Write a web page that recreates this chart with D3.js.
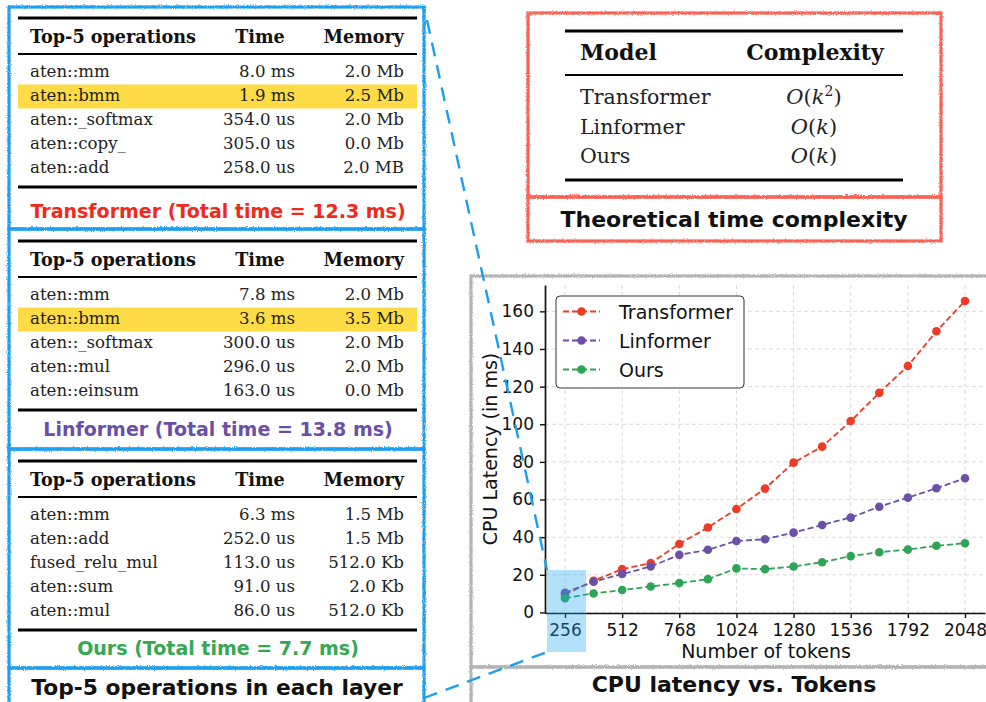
<!DOCTYPE html>
<html>
<head>
<meta charset="utf-8">
<script src="https://cdn.jsdelivr.net/npm/d3@7"></script>
<style>
  body { margin: 0; background: #fff; }
  svg { display: block; }
</style>
</head>
<body>
<svg id="fig" width="986" height="702"></svg>
<script>
// ---- chart data ----
var tokens = [256, 384, 512, 640, 768, 896, 1024, 1152, 1280, 1408, 1536, 1664, 1792, 1920, 2048];
var transformerMs = [9.5, 16.8, 23.0, 26.2, 36.4, 45.1, 55.0, 65.8, 79.6, 88.1, 101.7, 116.7, 131.0, 149.4, 165.5];
var linformerMs = [10.5, 16.3, 20.4, 24.4, 30.6, 33.3, 38.0, 38.9, 42.4, 46.5, 50.4, 56.2, 61.0, 66.0, 71.3];
var oursMs = [7.6, 10.1, 11.9, 13.8, 15.6, 17.7, 23.4, 23.0, 24.4, 26.7, 29.9, 32.0, 33.4, 35.4, 36.8];
var xTicks = [256, 512, 768, 1024, 1280, 1536, 1792, 2048];
var yTicks = [0, 20, 40, 60, 80, 100, 120, 140, 160];
var seriesNames = ['Transformer', 'Linformer', 'Ours'];

// ---- profiler tables ----
var transformerOps = ['aten::mm', 'aten::bmm', 'aten::_softmax', 'aten::copy_', 'aten::add'];
var transformerTime = ['8.0 ms', '1.9 ms', '354.0 us', '305.0 us', '258.0 us'];
var transformerMem = ['2.0 Mb', '2.5 Mb', '2.0 Mb', '0.0 Mb', '2.0 MB'];
var linformerOps = ['aten::mm', 'aten::bmm', 'aten::_softmax', 'aten::mul', 'aten::einsum'];
var linformerTime = ['7.8 ms', '3.6 ms', '300.0 us', '296.0 us', '163.0 us'];
var linformerMem = ['2.0 Mb', '3.5 Mb', '2.0 Mb', '2.0 Mb', '0.0 Mb'];
var oursOps = ['aten::mm', 'aten::add', 'fused_relu_mul', 'aten::sum', 'aten::mul'];
var oursTime = ['6.3 ms', '252.0 us', '113.0 us', '91.0 us', '86.0 us'];
var oursMem = ['1.5 Mb', '1.5 Mb', '512.0 Kb', '2.0 Kb', '512.0 Kb'];
var captions = ['Transformer (Total time = 12.3 ms)', 'Linformer (Total time = 13.8 ms)', 'Ours (Total time = 7.7 ms)'];

// ---- complexity table ----
var complexityModels = ['Transformer', 'Linformer', 'Ours'];
var complexityExp = ['2', '', ''];

var colors = { Transformer: '#ee3b26', Linformer: '#6a50a7', Ours: '#2fa356' };
var capColors = ['#f0291c', '#6a4fa8', '#34a853'];
var BLUE = '#1c9ff0', RED = '#fb6253', GRAY = '#b3b3b3';
var serif = '"DejaVu Serif", serif';
var sansBold = '"DejaVu Sans", sans-serif';

var svg = d3.select('#fig');
var defs = svg.append('defs');
var f = defs.append('filter').attr('id', 'rough')
  .attr('filterUnits', 'userSpaceOnUse')
  .attr('x', 0).attr('y', 0).attr('width', 986).attr('height', 702);
f.append('feTurbulence').attr('type', 'fractalNoise').attr('baseFrequency', 0.9)
  .attr('numOctaves', 2).attr('seed', 4).attr('result', 'n');
f.append('feDisplacementMap').attr('in', 'SourceGraphic').attr('in2', 'n')
  .attr('scale', 2.8).attr('xChannelSelector', 'R').attr('yChannelSelector', 'G');

svg.append('rect').attr('width', 986).attr('height', 702).attr('fill', '#fff');

// ================= left: profiler tables =================
function drawTable(y0, ops, times, mems, hi, capY, cap, capColor) {
  var g = svg.append('g');
  var x0 = 18, x1 = 417;
  if (hi >= 0) {
    g.append('rect').attr('x', x0).attr('y', y0 + 59 + 24 * hi - 16.5)
      .attr('width', x1 - x0).attr('height', 24).attr('fill', '#ffdc45');
  }
  g.append('rect').attr('x', x0).attr('y', y0 - 1.5).attr('width', x1 - x0).attr('height', 3);
  g.append('rect').attr('x', x0).attr('y', y0 + 35).attr('width', x1 - x0).attr('height', 2);
  g.append('rect').attr('x', x0).attr('y', y0 + 167.5).attr('width', x1 - x0).attr('height', 3);

  var hd = g.append('g').attr('font-family', serif).attr('font-weight', 'bold')
    .attr('font-size', 17.6).attr('fill', '#111');
  hd.append('text').attr('x', 30).attr('y', y0 + 25).text('Top-5 operations');
  hd.append('text').attr('x', 260).attr('y', y0 + 25).attr('text-anchor', 'middle').text('Time');
  hd.append('text').attr('x', 404).attr('y', y0 + 25).attr('text-anchor', 'end').text('Memory');

  var body = g.append('g').attr('font-family', serif).attr('font-size', 16.6).attr('fill', '#222');
  ops.forEach(function (op, i) {
    var by = y0 + 59 + 24 * i;
    body.append('text').attr('x', 30).attr('y', by).text(op);
    body.append('text').attr('x', 295).attr('y', by).attr('text-anchor', 'end').text(times[i]);
    body.append('text').attr('x', 404).attr('y', by).attr('text-anchor', 'end').text(mems[i]);
  });

  g.append('text').attr('x', 218).attr('y', capY).attr('text-anchor', 'middle')
    .attr('font-family', sansBold).attr('font-weight', 700).attr('font-size', 19)
    .attr('fill', capColor).text(cap);
}

drawTable(18, transformerOps, transformerTime, transformerMem, 1, 218, captions[0], capColors[0]);
drawTable(241, linformerOps, linformerTime, linformerMem, 1, 436, captions[1], capColors[1]);
drawTable(461, oursOps, oursTime, oursMem, -1, 655, captions[2], capColors[2]);

svg.append('text').attr('x', 217).attr('y', 695).attr('text-anchor', 'middle')
  .attr('font-family', sansBold).attr('font-weight', 700).attr('font-size', 21.8)
  .attr('fill', '#111').text('Top-5 operations in each layer');

// ================= top right: complexity table =================
var ct = svg.append('g');
ct.append('rect').attr('x', 565).attr('y', 29.5).attr('width', 338).attr('height', 3);
ct.append('rect').attr('x', 565).attr('y', 74).attr('width', 338).attr('height', 2);
ct.append('rect').attr('x', 565).attr('y', 178.5).attr('width', 338).attr('height', 3);
var cth = ct.append('g').attr('font-family', serif).attr('font-weight', 'bold')
  .attr('font-size', 22).attr('fill', '#111');
cth.append('text').attr('x', 580).attr('y', 60).text('Model');
cth.append('text').attr('x', 815).attr('y', 60).attr('text-anchor', 'middle').text('Complexity');
var rowBase = [104, 134, 163];
complexityModels.forEach(function (m, i) {
  ct.append('text').attr('x', 580).attr('y', rowBase[i])
    .attr('font-family', serif).attr('font-size', 20.5).attr('fill', '#222').text(m);
  var t = ct.append('text').attr('x', 814).attr('y', rowBase[i]).attr('text-anchor', 'middle')
    .attr('font-family', serif).attr('font-size', 21).attr('fill', '#222');
  t.append('tspan').attr('font-style', 'italic').text('O');
  t.append('tspan').text('(');
  t.append('tspan').attr('font-style', 'italic').text('k');
  if (complexityExp[i]) {
    t.append('tspan').attr('font-size', 14).attr('dy', -8).text(complexityExp[i]);
    t.append('tspan').attr('dy', 8).text(')');
  } else {
    t.append('tspan').text(')');
  }
});
svg.append('text').attr('x', 734).attr('y', 227).attr('text-anchor', 'middle')
  .attr('font-family', sansBold).attr('font-weight', 700).attr('font-size', 22)
  .attr('fill', '#111').text('Theoretical time complexity');

// ================= bottom right: latency chart =================
var x = d3.scaleLinear().domain([166.4, 2137.6]).range([545, 985]);
var y = d3.scaleLinear().domain([-0.3, 174]).range([613, 285]);

var grid = svg.append('g').attr('stroke', '#d6d6d6').attr('stroke-width', 0.9)
  .attr('stroke-dasharray', '4,3');
grid.selectAll('.gx').data(xTicks).enter().append('line')
  .attr('x1', function (d) { return x(d); }).attr('x2', function (d) { return x(d); })
  .attr('y1', y.range()[1]).attr('y2', y.range()[0]);
grid.selectAll('.gy').data(yTicks).enter().append('line')
  .attr('x1', x.range()[0]).attr('x2', x.range()[1])
  .attr('y1', function (d) { return y(d); }).attr('y2', function (d) { return y(d); });

var seriesVals = [transformerMs, linformerMs, oursMs];
var line = d3.line().x(function (d) { return x(d[0]); }).y(function (d) { return y(d[1]); });
seriesNames.forEach(function (name, k) {
  var pts = tokens.map(function (t, i) { return [t, seriesVals[k][i]]; });
  var g = svg.append('g');
  g.append('path').datum(pts).attr('d', line).attr('fill', 'none')
    .attr('stroke', colors[name]).attr('stroke-width', 1.8).attr('stroke-dasharray', '6,3');
  g.selectAll('circle').data(pts).enter().append('circle')
    .attr('cx', function (d) { return x(d[0]); }).attr('cy', function (d) { return y(d[1]); })
    .attr('r', 4.3).attr('fill', colors[name]);
});

var xAxis = svg.append('g').attr('transform', 'translate(0,613)')
  .call(d3.axisBottom(x).tickValues(xTicks).tickFormat(d3.format('d'))
    .tickSize(5).tickSizeOuter(0).tickPadding(6));
var yAxis = svg.append('g').attr('transform', 'translate(545,0)')
  .call(d3.axisLeft(y).tickValues(yTicks).tickFormat(d3.format('d'))
    .tickSize(5).tickSizeOuter(0).tickPadding(6));
[xAxis, yAxis].forEach(function (a) {
  a.selectAll('text').attr('font-family', '"DejaVu Sans", sans-serif').attr('font-size', 17).attr('fill', '#111');
  a.selectAll('line').attr('stroke', '#111').attr('stroke-width', 1.4);
  a.select('.domain').attr('stroke', '#111').attr('stroke-width', 1.7);
});

svg.append('text').attr('x', 766).attr('y', 658).attr('text-anchor', 'middle')
  .attr('font-family', '"DejaVu Sans", sans-serif').attr('font-size', 19).attr('fill', '#111')
  .text('Number of tokens');
svg.append('text').attr('transform', 'translate(497,449) rotate(-90)').attr('text-anchor', 'middle')
  .attr('font-family', '"DejaVu Sans", sans-serif').attr('font-size', 19).attr('fill', '#111')
  .text('CPU Latency (in ms)');

// legend
var lg = svg.append('g');
lg.append('rect').attr('x', 556).attr('y', 296).attr('width', 188).attr('height', 92)
  .attr('rx', 4).attr('fill', '#fff').attr('fill-opacity', 0.85)
  .attr('stroke', '#333').attr('stroke-width', 1);
seriesNames.forEach(function (name, i) {
  var cy = 311.5 + 29 * i;
  lg.append('line').attr('x1', 563).attr('x2', 600).attr('y1', cy).attr('y2', cy)
    .attr('stroke', colors[name]).attr('stroke-width', 1.8).attr('stroke-dasharray', '6,3');
  lg.append('circle').attr('cx', 581.5).attr('cy', cy).attr('r', 4.3).attr('fill', colors[name]);
  lg.append('text').attr('x', 619).attr('y', cy + 7).attr('font-family', '"DejaVu Sans", sans-serif')
    .attr('font-size', 19).attr('fill', '#111').text(name);
});

svg.append('text').attr('x', 734).attr('y', 692).attr('text-anchor', 'middle')
  .attr('font-family', sansBold).attr('font-weight', 700).attr('font-size', 22)
  .attr('fill', '#111').text('CPU latency vs. Tokens');

// zoom highlight around the first token count
svg.append('rect').attr('x', 547).attr('y', 570).attr('width', 39).attr('height', 82)
  .attr('fill', '#25a6f0').attr('fill-opacity', 0.35);

// ================= hand-drawn frames =================
var frames = svg.append('g').attr('filter', 'url(#rough)').attr('fill', 'none').attr('stroke-width', 3.2);
[[7, 229], [229, 449], [449, 668], [668, 720]].forEach(function (b) {
  frames.append('rect').attr('x', 9).attr('y', b[0]).attr('width', 415).attr('height', b[1] - b[0]).attr('stroke', BLUE);
});
[[13, 197], [197, 241]].forEach(function (b) {
  frames.append('rect').attr('x', 528).attr('y', b[0]).attr('width', 413).attr('height', b[1] - b[0]).attr('stroke', RED);
});
[[276, 667], [667, 720]].forEach(function (b) {
  frames.append('rect').attr('x', 471).attr('y', b[0]).attr('width', 540).attr('height', b[1] - b[0]).attr('stroke', GRAY);
});

// dashed connectors from the highlight to the operations panel
var conn = svg.append('g').attr('stroke', BLUE).attr('stroke-width', 2.4).attr('stroke-dasharray', '14,9');
conn.append('line').attr('x1', 427).attr('y1', 20).attr('x2', 547).attr('y2', 570);
conn.append('line').attr('x1', 424).attr('y1', 698).attr('x2', 547).attr('y2', 652);
</script>
</body>
</html>
